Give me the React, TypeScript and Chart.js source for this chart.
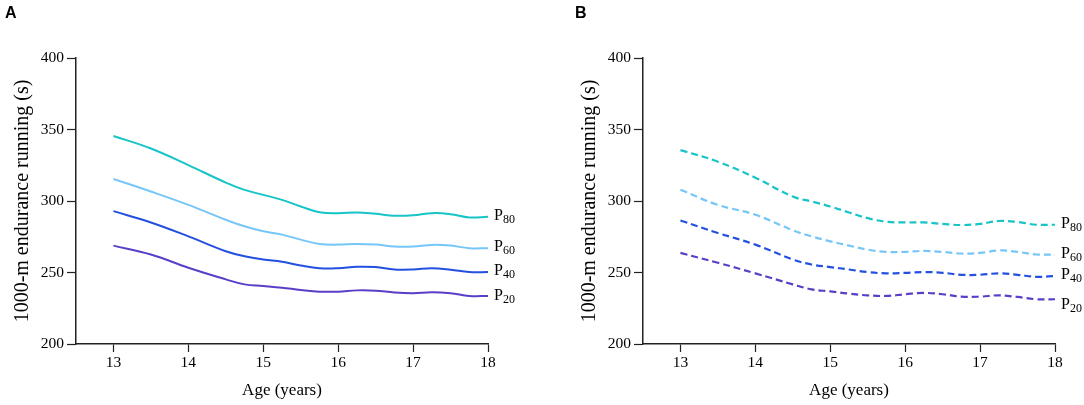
import { useEffect, useRef } from "react";
import { Chart, ChartConfiguration, Plugin, registerables } from "chart.js";

Chart.register(...registerables);

// ages sampled along the fitted curves
const ages = [13, 13.5, 14, 14.5, 14.75, 15, 15.25, 15.5, 15.75, 16, 16.25, 16.5, 16.75, 17, 17.25, 17.5, 17.75, 18];
const xTicks = [13, 14, 15, 16, 17, 18];
const yTicks = [200, 250, 300, 350, 400];
const percentiles = ["80", "60", "40", "20"];

// panel A (solid)
const a80 = [345.5, 336.7, 325.1, 312.9, 307.8, 304.3, 300.8, 296.2, 292.2, 291.5, 292, 291, 289.7, 290, 291.5, 290.8, 288.5, 289];
const a60 = [315.4, 306.6, 297.3, 286.9, 282.3, 278.8, 276.5, 273, 270, 269.5, 270, 269.5, 268.1, 268.1, 269.3, 268.8, 267, 267];
const a40 = [292.9, 285, 275.3, 264.9, 261.4, 259.1, 257.5, 254.9, 253, 253, 254, 253.8, 252.1, 252.1, 253, 252, 250.3, 250.3];
const a20 = [268.8, 262.6, 253.3, 245.2, 241.7, 240.6, 239.4, 237.8, 236.6, 236.6, 237.5, 237.3, 236, 235.5, 236.2, 235.5, 233.6, 233.6];

// panel B (dashed)
const b80 = [335.6, 327.5, 316.3, 303.1, 299.7, 296.2, 292, 288, 285.5, 285, 285, 284, 283.2, 284, 286, 285.3, 283.4, 283.4];
const b60 = [307.8, 297.3, 290.4, 279.5, 275.3, 271.8, 268.8, 266, 264.4, 264.4, 265.1, 264.4, 263.3, 263.7, 265.4, 264.4, 262.6, 262.6];
const b40 = [286.4, 277.6, 269.5, 259.1, 255.6, 253.8, 252.1, 250.3, 249.4, 249.8, 250.3, 249.8, 248.4, 248.4, 249.4, 248.4, 247, 247.5];
const b20 = [263.7, 256.8, 249.4, 241.7, 238.2, 236.8, 235.2, 234, 233.6, 234.8, 235.7, 234.8, 233.1, 233.1, 234, 232.9, 231.3, 231.3];

const colors = ["#17c4c6", "#76c6f7", "#2450e0", "#5a3ec8"];
const SERIF = "'Liberation Serif', 'Times New Roman', serif";

interface PanelProps {
  letter: string;
  series: number[][];
  dashed: boolean;
  width: number;
  padLeft: number;
  padRight: number;
  letterX: number;
  labelShift: number[];
}

function Panel({ letter, series, dashed, width, padLeft, padRight, letterX, labelShift }: PanelProps) {
  const canvasRef = useRef<HTMLCanvasElement>(null);
  const chartRef = useRef<Chart | null>(null);

  useEffect(() => {
    if (!canvasRef.current) return;
    if (chartRef.current) chartRef.current.destroy();
    const ctx = canvasRef.current.getContext("2d");
    if (!ctx) return;

    // panel letter + P-labels at the end of each curve
    const decorations: Plugin = {
      id: "decorations",
      afterDatasetsDraw(chart) {
        const c = chart.ctx;
        c.save();
        c.fillStyle = "#000";
        c.font = "bold 16px 'Liberation Sans', Arial, sans-serif";
        c.textBaseline = "middle";
        c.fillText(letter, letterX, 14);
        chart.data.datasets.forEach((_, i) => {
          const meta = chart.getDatasetMeta(i);
          const last = meta.data[meta.data.length - 1];
          if (!last) return;
          const x = last.x + 6;
          const y = last.y - 1 + (labelShift[i] || 0);
          c.font = `16px ${SERIF}`;
          c.fillText("P", x, y);
          const w = c.measureText("P").width;
          c.font = `12px ${SERIF}`;
          c.fillText(percentiles[i], x + w, y + 4);
        });
        c.restore();
      },
    };

    const config: ChartConfiguration = {
      type: "line",
      data: {
        datasets: series.map((vals, i) => ({
          label: "P" + percentiles[i],
          data: ages.map((a, j) => ({ x: a, y: vals[j] })),
          borderColor: colors[i],
          backgroundColor: colors[i],
          borderWidth: dashed ? 2.2 : 2,
          borderDash: dashed ? [7, 4] : [],
          pointRadius: 0,
          tension: 0.4,
          fill: false,
        })),
      },
      options: {
        animation: false,
        responsive: true,
        maintainAspectRatio: false,
        layout: { padding: { top: 58, left: padLeft, right: padRight, bottom: 0 } },
        plugins: {
          legend: { display: false },
          tooltip: { enabled: false },
        },
        scales: {
          x: {
            type: "linear",
            min: 12.5,
            max: 18,
            afterBuildTicks: (scale) => {
              scale.ticks = xTicks.map((v) => ({ value: v }));
            },
            afterFit: (scale) => {
              scale.height = 61;
            },
            ticks: { color: "#000", font: { family: SERIF, size: 15.5 }, padding: 2 },
            grid: { drawOnChartArea: false, drawTicks: true, tickLength: 8, tickColor: "#222", tickWidth: 1.2 },
            border: { display: true, color: "#222", width: 1.5 },
            title: {
              display: true,
              text: "Age (years)",
              color: "#000",
              font: { family: SERIF, size: 17 },
              padding: { top: 0, bottom: 4 },
            },
          },
          y: {
            min: 200,
            max: 400,
            afterBuildTicks: (scale) => {
              scale.ticks = yTicks.map((v) => ({ value: v }));
            },
            afterFit: (scale) => {
              scale.width = 76;
            },
            ticks: { color: "#000", font: { family: SERIF, size: 15.5 }, padding: 3 },
            grid: { drawOnChartArea: false, drawTicks: true, tickLength: 9, tickColor: "#222", tickWidth: 1.2 },
            border: { display: true, color: "#222", width: 1.5 },
            title: {
              display: true,
              text: "1000-m endurance running (s)",
              color: "#000",
              font: { family: SERIF, size: 20 },
              padding: { top: 11, bottom: 0 },
            },
          },
        },
      },
      plugins: [decorations],
    };

    chartRef.current = new Chart(ctx, config);
    return () => {
      chartRef.current?.destroy();
      chartRef.current = null;
    };
  }, [letter, series, dashed, padLeft, padRight, letterX, labelShift]);

  return (
    <div style={{ position: "relative", width, height: 405 }}>
      <canvas ref={canvasRef} />
    </div>
  );
}

const seriesA = [a80, a60, a40, a20];
const seriesB = [b80, b60, b40, b20];
const shiftA = [0, 0, 0, 1];
const shiftB = [0, 0, 0, 7];

export default function App() {
  useEffect(() => {
    document.body.style.margin = "0";
    document.body.style.background = "#fff";
  }, []);

  return (
    <div style={{ display: "flex", width: 1084, height: 405, background: "#fff" }}>
      <Panel letter="A" series={seriesA} dashed={false} width={540} padLeft={0} padRight={52} letterX={5} labelShift={shiftA} />
      <Panel letter="B" series={seriesB} dashed={true} width={544} padLeft={27} padRight={29} letterX={35} labelShift={shiftB} />
    </div>
  );
}
